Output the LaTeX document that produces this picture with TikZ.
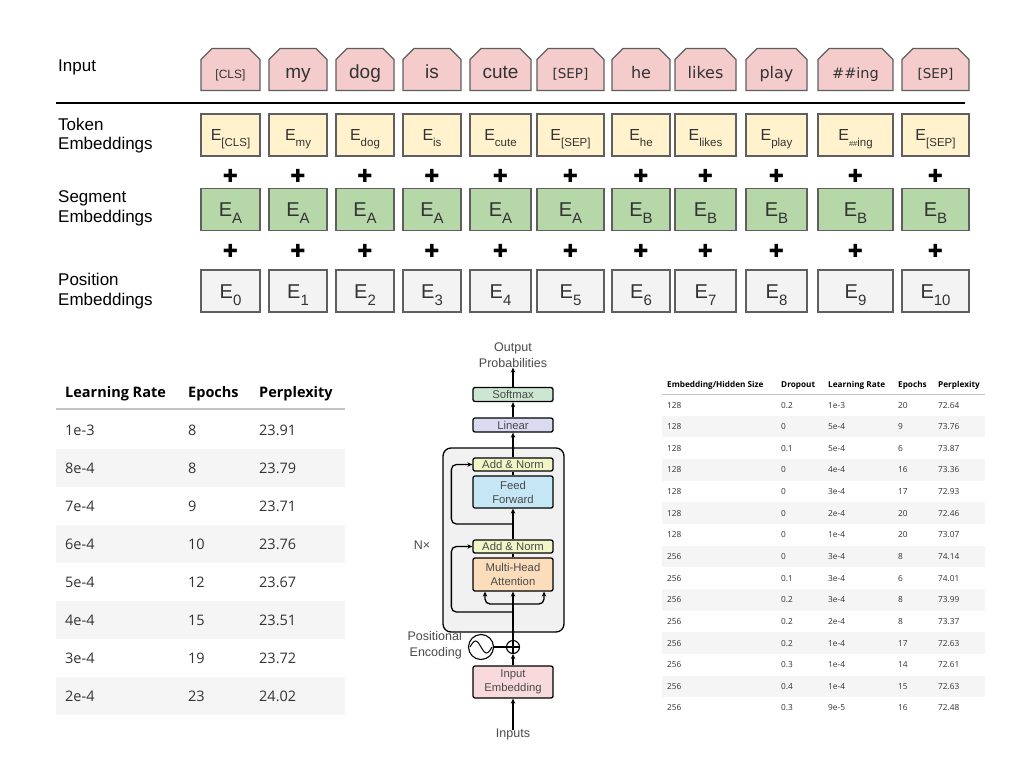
\documentclass[tikz,border=0pt]{standalone}
\usepackage{fontspec}
\setmainfont{Liberation Sans}
\newfontfamily\verd{DejaVu Sans}
\newfontfamily\symfont{DejaVu Sans}
\newfontfamily\tabfont{Open Sans}
\usetikzlibrary{shapes.misc,arrows.meta,positioning}

\definecolor{inpink}{HTML}{F4CCCC}
\definecolor{tokyellow}{HTML}{FFF2CC}
\definecolor{seggreen}{HTML}{B6D7A8}
\definecolor{posgray}{HTML}{F3F3F3}
\definecolor{boxline}{HTML}{5F5F5F}
\definecolor{textdark}{HTML}{333333}
\definecolor{rowgray}{HTML}{F5F5F5}
\definecolor{rulegray}{HTML}{C4C4C4}
\definecolor{softgreen}{HTML}{CCE7D1}
\definecolor{linearblue}{HTML}{DADBF1}
\definecolor{normyellow}{HTML}{F2F5C6}
\definecolor{ffblue}{HTML}{C4E6F5}
\definecolor{attnorange}{HTML}{FBDDBB}
\definecolor{embpink}{HTML}{F8D9DC}
\definecolor{layergray}{HTML}{F1F1F1}
\definecolor{tftext}{HTML}{4A4A4A}

% E with a lowered index
\newcommand{\Etok}[1]{{\fontsize{16}{16}\selectfont E}\raisebox{-5.5pt}{\fontsize{11.5}{11.5}\selectfont #1}}
\newcommand{\Ebig}[1]{{\fontsize{20}{20}\selectfont E}\raisebox{-7pt}{\fontsize{15}{15}\selectfont #1}}

\tikzset{
    rowlabel/.style={
           anchor=west,
           align=left,
           inner sep=0pt,
           text=black,
           font=\fontsize{17}{19.5}\selectfont,
           },
    inbox/.style={
           chamfered rectangle,
           chamfered rectangle corners={north west,north east},
           chamfered rectangle sep=5.5pt,
           draw=boxline, line width=1.2pt,
           fill=inpink,
           minimum height=42pt,
           inner sep=0pt,
           text height=17pt, text depth=0pt,
           text=textdark,
           },
    embbox/.style={
           rectangle,
           draw=boxline, line width=1.2pt,
           minimum height=42pt,
           inner sep=0pt,
           text=textdark,
           text depth=0pt,
           },
    plussign/.style={
           inner sep=0pt,
           font=\symfont\fontsize{18}{18}\selectfont,
           },
    tfbox/.style={
           rectangle,
           rounded corners=2pt,
           draw=black, line width=1.3pt,
           minimum width=80pt,
           minimum height=14pt,
           inner sep=0pt,
           align=center,
           text=tftext,
           font=\fontsize{11.3}{14}\selectfont,
           },
    tflabel/.style={
           inner sep=0pt,
           align=center,
           text=tftext,
           font=\fontsize{12.5}{16}\selectfont,
           },
    lhead/.style={
           anchor=west, inner sep=0pt,
           text height=10pt, text depth=0pt,
           text=black,
           font=\tabfont\bfseries\fontsize{14.5}{14.5}\selectfont,
           },
    lcell/.style={
           anchor=west, inner sep=0pt,
           text height=10pt, text depth=0pt,
           text=textdark,
           font=\tabfont\fontsize{14.5}{14.5}\selectfont,
           },
    rhead/.style={
           anchor=west, inner sep=0pt,
           text height=6pt, text depth=0pt,
           text=black,
           font=\tabfont\bfseries\fontsize{8.2}{8.2}\selectfont,
           },
    rcell/.style={
           anchor=west, inner sep=0pt,
           text height=6pt, text depth=0pt,
           text=textdark,
           font=\tabfont\fontsize{8.3}{8.3}\selectfont,
           },
}

\begin{document}
\begin{tikzpicture}[x=1pt,y=-1pt,>={Stealth[length=5pt,width=4.5pt]}]
    \fill[white] (0,0) rectangle (1024,768);
    \useasboundingbox (0,0) rectangle (1024,768);

    % row labels of the embedding figure
    \node[rowlabel] (lbinput) at (58,67) {Input};
    \node[rowlabel] (lbtoken) at (58,135.5) {Token\\Embeddings};
    \node[rowlabel] (lbsegment) at (58,208.5) {Segment\\Embeddings};
    \node[rowlabel] (lbposition) at (58,291) {Position\\Embeddings};

    % input tokens
    \foreach \cx/\w/\word [count=\i] in {
        230.5/59/{\fontsize{12}{12}\selectfont [CLS]},
        298/58/{\fontsize{19}{19}\selectfont my},
        365/58/{\fontsize{19}{19}\selectfont dog},
        432/58/{\fontsize{19}{19}\selectfont is},
        500.5/61/{\fontsize{19}{19}\selectfont cute},
        570.5/67/{\verd\fontsize{13.5}{13.5}\selectfont [SEP]},
        641/58/{\verd\fontsize{16}{16}\selectfont he},
        705.5/61/{\verd\fontsize{16}{16}\selectfont likes},
        776.5/61/{\verd\fontsize{16}{16}\selectfont play},
        855.5/75/{\verd\fontsize{14.5}{14.5}\selectfont \#\#ing},
        935.5/67/{\verd\fontsize{13.5}{13.5}\selectfont [SEP]}}
        \node[inbox, minimum width=\w] (inp\i) at (\cx,69.5) {\word};

    % rule under the input row
    \coordinate (rulel) at (56,103);
    \coordinate (ruler) at (965,103);
    \draw[line width=2.8pt] (rulel) -- (ruler);

    % token embeddings
    \foreach \cx/\w/\sub [count=\i] in {
        230.5/59/{[CLS]}, 298/58/my, 365/58/dog, 432/58/is, 500.5/61/cute,
        570.5/67/{[SEP]}, 641/58/he, 705.5/61/likes, 776.5/61/play,
        855.5/75/{{\fontsize{7.5}{7.5}\selectfont\#\#}ing}, 935.5/67/{[SEP]}}
        \node[embbox, fill=tokyellow, minimum width=\w, text height=11.5pt] (tok\i) at (\cx,135) {\Etok{\sub}};

    % segment embeddings
    \foreach \cx/\w/\sub [count=\i] in {
        230.5/59/A, 298/58/A, 365/58/A, 432/58/A, 500.5/61/A,
        570.5/67/A, 641/58/B, 705.5/61/B, 776.5/61/B,
        855.5/75/B, 935.5/67/B}
        \node[embbox, fill=seggreen, minimum width=\w, text height=14.3pt] (seg\i) at (\cx,209.5) {\Ebig{\sub}};

    % position embeddings and the plus signs between the rows
    \foreach \cx/\w [count=\i] in {
        230.5/59, 298/58, 365/58, 432/58, 500.5/61,
        570.5/67, 641/58, 705.5/61, 776.5/61,
        855.5/75, 935.5/67}
    {
        \pgfmathtruncatemacro\k{\i-1}
        \node[embbox, fill=posgray, minimum width=\w, text height=14.3pt] (pos\i) at (\cx,291) {\Ebig{\k}};
        \node[plussign] (pts\i) at (\cx,176) {✚};
        \node[plussign] (psp\i) at (\cx,251) {✚};
    }

    % left table: learning rate sweep
    \node[lhead] (lhrate) at (65,392) {Learning Rate};
    \node[lhead] (lhepoch) at (188,392) {Epochs};
    \node[lhead] (lhppl) at (259,392) {Perplexity};
    \coordinate (lrulel) at (56,409);
    \coordinate (lruler) at (345,409);
    \draw[rulegray, line width=1.3pt] (lrulel) -- (lruler);
    \foreach \lr/\ep/\pp [count=\r] in {
        1e-3/8/23.91, 8e-4/8/23.79, 7e-4/9/23.71, 6e-4/10/23.76,
        5e-4/12/23.67, 4e-4/15/23.51, 3e-4/19/23.72, 2e-4/23/24.02}
    {
        \pgfmathsetmacro\ry{430+38*(\r-1)}
        \ifodd\r\else
            \fill[rowgray] (56,\ry-19) rectangle (345,\ry+19);
        \fi
        \node[lcell] (lrate\r) at (65,\ry) {\lr};
        \node[lcell] (lepoch\r) at (188,\ry) {\ep};
        \node[lcell] (lppl\r) at (259,\ry) {\pp};
    }

    % transformer encoder
    \node[tfbox, fill=layergray, minimum width=121pt, minimum height=184pt, rounded corners=8pt] (layer) at (503.5,540) {};
    \node[tfbox, fill=softgreen] (softmax) at (513,394.5) {Softmax};
    \node[tfbox, fill=linearblue] (linear) at (513,425) {Linear};
    \node[tfbox, fill=normyellow, minimum height=13pt] (norm2) at (513,464.5) {Add \& Norm};
    \node[tfbox, fill=ffblue, minimum height=32pt] (ffn) at (513,492) {Feed\\Forward};
    \node[tfbox, fill=normyellow, minimum height=13pt] (norm1) at (513,546.5) {Add \& Norm};
    \node[tfbox, fill=attnorange, minimum height=33pt] (mha) at (513,574.5) {Multi-Head\\Attention};
    \node[tfbox, fill=embpink, minimum height=32pt] (embed) at (513,682) {Input\\Embedding};
    \node[circle, draw, line width=1.1pt, minimum size=13pt, inner sep=0pt] (addpe) at (513,647) {};
    \draw[line width=1.1pt] (addpe.north) -- (addpe.south) (addpe.west) -- (addpe.east);
    \node[circle, draw, line width=1.1pt, minimum size=25pt, inner sep=0pt] (pe) at (481,647) {};
    \draw[line width=1pt] ([xshift=-11pt]pe.center) sin ++(5.5,-6) cos ++(5.5,6) sin ++(5.5,6) cos ++(5.5,-6);

    \node[tflabel] (output) at (513,355) {Output\\Probabilities};
    \node[tflabel] (inputs) at (513,734) {Inputs};
    \node[tflabel] (nx) at (422,545) {N×};
    \node[tflabel, align=right, anchor=east] (pelab) at (462,645) {Positional\\Encoding};

    % data flow
    \coordinate (split) at (513,604);
    \coordinate (res1) at (513,612);
    \coordinate (res2) at (513,524);
    \draw[->, line width=1.3pt, shorten <=-2pt] (inputs.north) -- (embed.south);
    \draw[->, line width=1.3pt] (embed.north) -- (addpe.south);
    \draw[line width=1.1pt] (pe.east) -- (addpe.west);
    \draw[->, line width=1.3pt] (addpe.north) -- (mha.south);
    \draw[->, line width=1.3pt, rounded corners=5pt] (split) -| ([xshift=-28pt]mha.south);
    \draw[->, line width=1.3pt, rounded corners=5pt] (split) -| ([xshift=31pt]mha.south);
    \draw[->, line width=1.3pt, rounded corners=5pt] (res1) -| ([xshift=-21pt]norm1.west) -- (norm1.west);
    \draw[line width=1.3pt] (mha.north) -- (norm1.south);
    \draw[->, line width=1.3pt] (norm1.north) -- (ffn.south);
    \draw[->, line width=1.3pt, rounded corners=5pt] (res2) -| ([xshift=-21pt]norm2.west) -- (norm2.west);
    \draw[line width=1.3pt] (ffn.north) -- (norm2.south);
    \draw[->, line width=1.3pt] (norm2.north) -- (linear.south);
    \draw[->, line width=1.3pt] (linear.north) -- (softmax.south);
    \draw[->, line width=1.3pt] (softmax.north) -- (output.south);

    % right table: size and dropout sweep
    \node[rhead] (rhsize) at (667,384) {Embedding/Hidden Size};
    \node[rhead] (rhdrop) at (781,384) {Dropout};
    \node[rhead] (rhrate) at (828,384) {Learning Rate};
    \node[rhead] (rhepoch) at (898,384) {Epochs};
    \node[rhead] (rhppl) at (938,384) {Perplexity};
    \coordinate (rrulel) at (662,394);
    \coordinate (rruler) at (985,394);
    \draw[rulegray, line width=1pt] (rrulel) -- (rruler);
    \foreach \hs/\dr/\lr/\ep/\pp [count=\r] in {
        128/0.2/1e-3/20/72.64, 128/0/5e-4/9/73.76, 128/0.1/5e-4/6/73.87,
        128/0/4e-4/16/73.36, 128/0/3e-4/17/72.93, 128/0/2e-4/20/72.46,
        128/0/1e-4/20/73.07, 256/0/3e-4/8/74.14, 256/0.1/3e-4/6/74.01,
        256/0.2/3e-4/8/73.99, 256/0.2/2e-4/8/73.37, 256/0.2/1e-4/17/72.63,
        256/0.3/1e-4/14/72.61, 256/0.4/1e-4/15/72.63, 256/0.3/9e-5/16/72.48}
    {
        \pgfmathsetmacro\ry{405+21.64*(\r-1)}
        \ifodd\r\else
            \fill[rowgray] (662,\ry-10.8) rectangle (985,\ry+10.8);
        \fi
        \node[rcell] (rsize\r) at (667,\ry) {\hs};
        \node[rcell] (rdrop\r) at (781,\ry) {\dr};
        \node[rcell] (rrate\r) at (828,\ry) {\lr};
        \node[rcell] (repoch\r) at (898,\ry) {\ep};
        \node[rcell] (rppl\r) at (938,\ry) {\pp};
    }
\end{tikzpicture}
\end{document}
